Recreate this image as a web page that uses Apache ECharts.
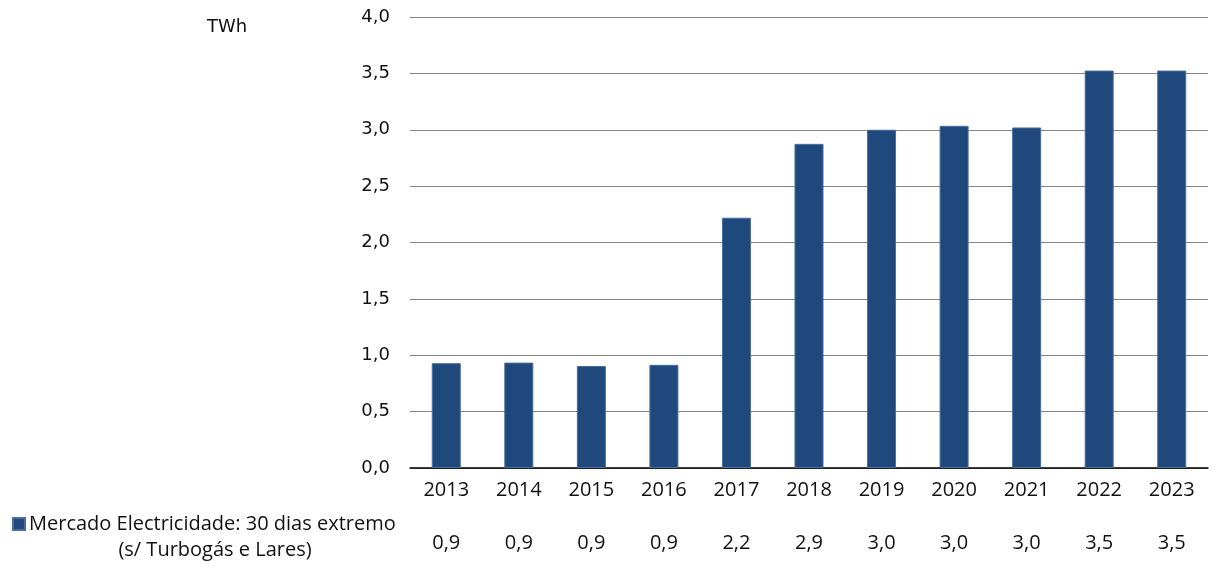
<!DOCTYPE html>
<html>
<head>
<meta charset="utf-8">
<script src="https://cdn.jsdelivr.net/npm/echarts@6/dist/echarts.min.js"></script>
<style>
  html, body { margin: 0; padding: 0; background: #fff; }
  #chart { width: 1218px; height: 570px; }
</style>
</head>
<body>
<div id="chart"></div>
<script>
// Annual electricity market, 30 extreme days (TWh)
const years = ['2013', '2014', '2015', '2016', '2017', '2018', '2019', '2020', '2021', '2022', '2023'];
const energyTWh = [0.93, 0.935, 0.905, 0.915, 2.22, 2.875, 3.0, 3.035, 3.02, 3.525, 3.525];
const yTicks = [0, 0.5, 1.0, 1.5, 2.0, 2.5, 3.0, 3.5, 4.0];
const seriesName = 'Mercado Electricidade: 30 dias extremo';
const seriesNote = '(s/ Turbogás e Lares)';
const unit = 'TWh';

const BAR = '#1f497d';
const bodyFont = '"Open Sans", Lato, sans-serif';
const numFont = '"DejaVu Sans", sans-serif';
const fmt = v => v.toFixed(1).replace('.', ',');

const chart = echarts.init(document.getElementById('chart'), null, { renderer: 'canvas' });

chart.setOption({
  animation: false,
  backgroundColor: '#ffffff',
  grid: { left: 410, right: 10, top: 17, bottom: 102, containLabel: false },
  legend: {
    left: 12, top: 514, padding: 0,
    itemWidth: 12, itemHeight: 12, itemGap: 4,
    icon: 'rect',
    selectedMode: false,
    data: [seriesName],
    textStyle: { fontFamily: bodyFont, fontSize: 20, color: '#111', padding: [0, 0, 0, -1] }
  },
  graphic: [
    {
      type: 'text', x: 215, y: 540,
      style: { text: seriesNote, font: '20px ' + bodyFont, fill: '#111', textAlign: 'center' }
    },
    {
      type: 'text', left: 207, top: 18,
      style: { text: unit, font: '18px ' + numFont, fill: '#111' }
    }
  ],
  xAxis: [
    {
      type: 'category', data: years, position: 'bottom',
      axisLine: { show: true, lineStyle: { color: '#000', width: 1.5 } },
      axisTick: { show: false },
      axisLabel: { margin: 12, fontFamily: bodyFont, fontSize: 20, color: '#111' }
    },
    {
      type: 'category', data: energyTWh.map(fmt), position: 'bottom', offset: 54,
      axisLine: { show: false }, axisTick: { show: false },
      axisLabel: { margin: 11, fontFamily: bodyFont, fontSize: 20, color: '#111' }
    }
  ],
  yAxis: {
    type: 'value', min: yTicks[0], max: yTicks[yTicks.length - 1], interval: 0.5,
    axisLine: { show: false }, axisTick: { show: false },
    axisLabel: {
      margin: 20, fontFamily: numFont, fontSize: 18, color: '#111', formatter: fmt,
      verticalAlign: 'middle', padding: [5, 0, 0, 0]
    },
    splitLine: { lineStyle: { color: '#868686', width: 1 } }
  },
  series: [{
    name: seriesName, type: 'bar', data: energyTWh, xAxisIndex: 0,
    barWidth: '40%',
    itemStyle: { color: BAR, borderColor: '#4a6e9c', borderWidth: 1 }
  }]
});
</script>
</body>
</html>
